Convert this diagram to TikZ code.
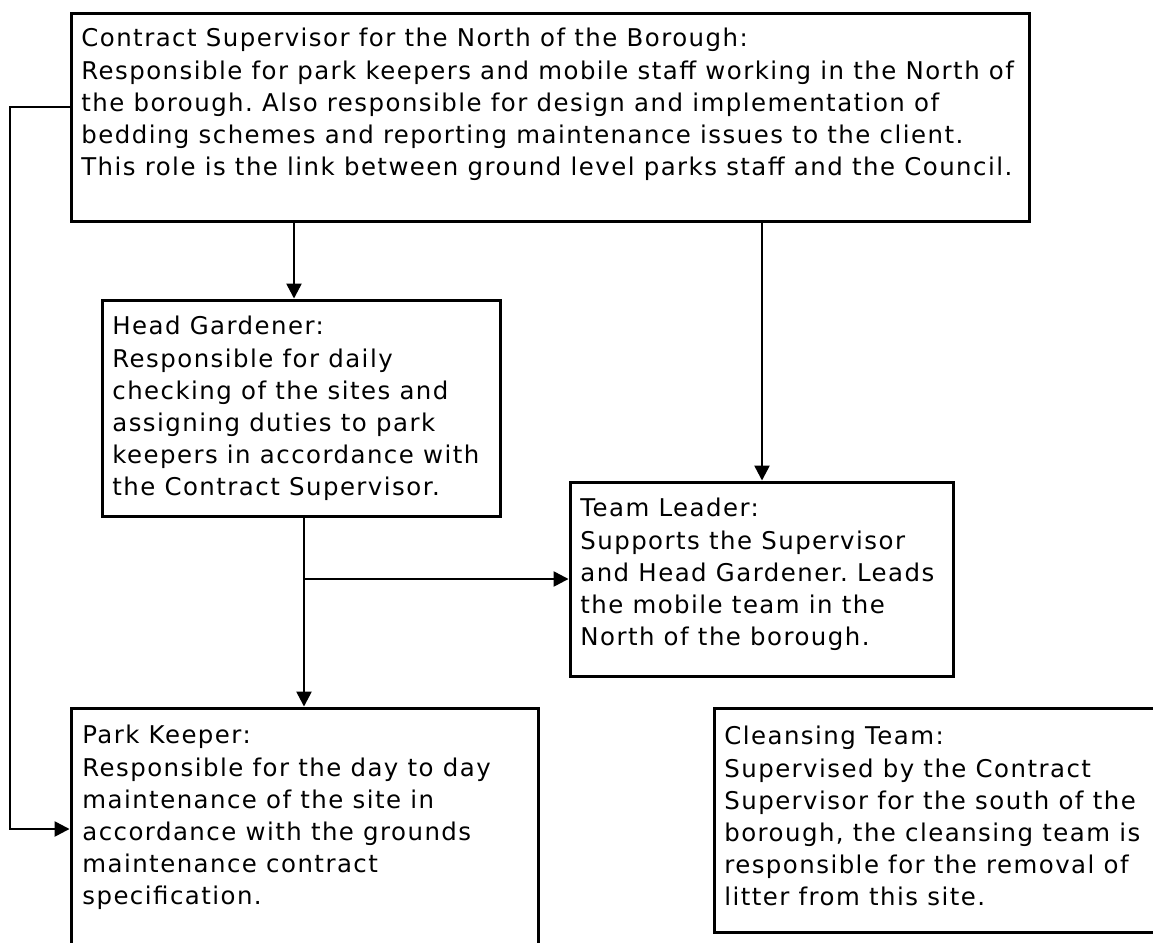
\documentclass[tikz,border=0pt]{standalone}
\usepackage{fontspec}
\setmainfont[LetterSpace=6]{DejaVu Sans}
\frenchspacing
\usetikzlibrary{arrows.meta,positioning}

\begin{document}
\begin{tikzpicture}[
    box/.style={rectangle,draw,line width=1.7pt,inner sep=0pt},
    txt/.style={anchor=north west,align=left,inner sep=0pt,
      font=\fontsize{13.9}{18.3}\selectfont},
    link/.style={line width=1.4pt,-{Triangle[length=8.5pt,width=8.5pt]}},
    x=0.02cm,y=-0.02cm
    ]
    \useasboundingbox (0,0) rectangle (1153,943);
    % boxes
    \node[box,minimum width=19.18cm,minimum height=4.18cm](cs) at (550.5,117.5){};
    \node[box,minimum width=7.98cm,minimum height=4.34cm](hg) at (301.5,408.5){};
    \node[box,minimum width=7.68cm,minimum height=3.9cm](tl) at (762,579.5){};
    \node[box,minimum width=9.36cm,minimum height=5.84cm](pk) at (305,854){};
    \node[box,minimum width=9.72cm,minimum height=4.5cm](ct) at (957,820.5){};
    % texts
    \node[txt](cst) at (81,28){Contract Supervisor for the North of the Borough:\\
      Responsible for park keepers and mobile staff working in the North of\\
      the borough. Also responsible for design and implementation of\\
      bedding schemes and reporting maintenance issues to the client.\\
      This role is the link between ground level parks staff and the Council.};
    \node[txt](hgt) at (112,316){Head Gardener:\\
      Responsible for daily\\
      checking of the sites and\\
      assigning duties to park\\
      keepers in accordance with\\
      the Contract Supervisor.};
    \node[txt](tlt) at (580,498){Team Leader:\\
      Supports the Supervisor\\
      and Head Gardener. Leads\\
      the mobile team in the\\
      North of the borough.};
    \node[txt](pkt) at (82,725){Park Keeper:\\
      Responsible for the day to day\\
      maintenance of the site in\\
      accordance with the grounds\\
      maintenance contract\\
      specification.};
    \node[txt](ctt) at (724,726){Cleansing Team:\\
      Supervised by the Contract\\
      Supervisor for the south of the\\
      borough, the cleansing team is\\
      responsible for the removal of\\
      litter from this site.};
    % connectors
    \coordinate (br) at (304,579);
    \draw[link] (cs.south -| 294,0) -- (hg.north -| 294,0);
    \draw[link] (cs.south -| 762,0) -- (tl.north -| 762,0);
    \draw[link] (hg.south -| 304,0) -- (pk.north -| 304,0);
    \draw[link] (br) -- (tl.west |- br);
    \draw[link] (cs.west |- 0,107) -- (10,107) |- (pk.west |- 0,829);
  \end{tikzpicture}
\end{document}
